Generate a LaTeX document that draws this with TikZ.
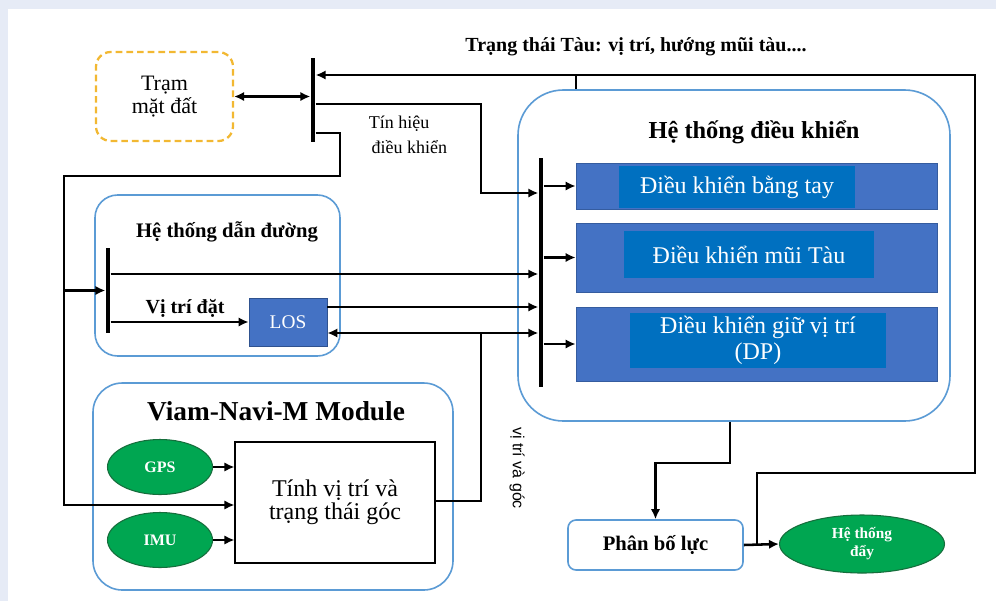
\documentclass[tikz,border=0pt]{standalone}
\usepackage{fontspec}
\setmainfont{Liberation Serif}
\newfontfamily\sansf{Liberation Sans}
\usetikzlibrary{arrows.meta,shapes.geometric}
\definecolor{bgc}{RGB}{230,235,246}
\definecolor{edgeblue}{RGB}{91,155,213}
\definecolor{boxblue}{RGB}{68,114,196}
\definecolor{boxedge}{RGB}{47,82,143}
\definecolor{innerblue}{RGB}{0,112,192}
\definecolor{grn}{RGB}{0,166,81}
\definecolor{grnedge}{RGB}{22,110,60}
\definecolor{orng}{RGB}{242,184,50}
\begin{document}
\begin{tikzpicture}[x=0.75pt,y=-0.75pt,
  sz/.style 2 args={minimum width=#1*0.75pt, minimum height=#2*0.75pt},
  wire/.style={line width=1.9pt, black},
  arr/.style={wire, -{Latex[length=7.5pt,width=7pt]}},
  dbl/.style={wire, {Latex[length=7.5pt,width=7pt]}-{Latex[length=7.5pt,width=7pt]}},
  busbar/.style={fill=black, draw=none, inner sep=0pt, minimum width=3.6pt},
  container/.style={draw=edgeblue, line width=1.2pt, rounded corners=#1, inner sep=0pt},
  tram/.style={draw=orng, line width=1.7pt, dash pattern=on 5pt off 3pt, rounded corners=11pt, inner sep=0pt, align=center, font=\fontsize{16.5}{17}\selectfont},
  losbox/.style={fill=boxblue, draw=boxedge, line width=0.6pt, inner sep=0pt, text=white, font=\fontsize{14.5}{16}\selectfont},
  outerbox/.style={fill=boxblue, draw=boxedge!70!boxblue, line width=0.6pt, inner sep=0pt},
  innerbox/.style={fill=innerblue, draw=none, inner sep=0pt, text=white, align=center, font=\fontsize{18}{20}\selectfont},
  calcbox/.style={draw=black, line width=0.8pt, fill=white, inner sep=0pt, align=center, font=\fontsize{18}{17.5}\selectfont},
  ell/.style={ellipse, fill=grn, draw=grnedge, line width=0.8pt, inner sep=0pt, text=white, align=center},
  title/.style={inner sep=0pt, font=\bfseries\fontsize{#1}{#1}\selectfont}
]
\fill[bgc] (0,0) rectangle (996,601);
\fill[white] (8,9) rectangle (996,601);
\useasboundingbox (0,0) rectangle (996,601);

% containers
\node[container=17pt, sz={245}{161}] (nav) at (217.5,275.5) {};
\node[container=22pt, sz={360}{207}] (viam) at (273,486.5) {};
\node[container=34pt, sz={432}{331}] (ctl) at (734,255.5) {};
\node[container=6pt, sz={175}{50}, font=\bfseries\fontsize{15.5}{18}\selectfont] (phan) at (655.5,545) {Phân bố lực};

% titles
\node[title=15] (ttop) at (636,47) {Trạng thái Tàu: vị trí, hướng mũi tàu....};
\node[title=18.3] (tctl) at (754,132) {Hệ thống điều khiển};
\node[title=15.5] (tnav) at (227,232) {Hệ thống dẫn đường};
\node[title=20.5] (tviam) at (276,411) {Viam-Navi-M Module};

% boxes
\node[tram, sz={137}{89}] (tram) at (164.5,96.5) {Trạm\\mặt đất};
\node[busbar, minimum height=84*0.75pt] (b1) at (313,100) {};
\node[busbar, minimum height=229*0.75pt] (b2) at (541,272.5) {};
\node[busbar, minimum height=85*0.75pt] (b3) at (108,290.5) {};
\node[losbox, sz={78}{48}] (los) at (288,322) {LOS};

\node[outerbox, sz={361}{46}] (m1) at (756.5,186) {};
\node[innerbox, sz={236}{42}] (i1) at (737,187) {Điều khiển bằng tay};
\node[outerbox, sz={361}{69}] (m2) at (756.5,257.5) {};
\node[innerbox, sz={250}{47}] (i2) at (749,254.5) {Điều khiển mũi Tàu};
\node[outerbox, sz={361}{74}] (m3) at (756.5,344) {};
\node[innerbox, sz={256}{55}] (i3) at (758,340.5) {Điều khiển giữ vị trí\\(DP)};

\node[calcbox, sz={200}{121}] (calc) at (335,502.5) {Tính vị trí và\\trạng thái góc};
\node[ell, sz={105}{55}, font=\bfseries\fontsize{12}{14}\selectfont] (gps) at (160,467) {GPS};
\node[ell, sz={105}{55}, font=\bfseries\fontsize{12}{14}\selectfont] (imu) at (160,540) {IMU};
\node[ell, sz={165}{58}, font=\bfseries\fontsize{11.5}{13.5}\selectfont] (day) at (862,544) {Hệ thống\\đẩy};

% labels
\node[inner sep=0pt, align=left, font=\fontsize{13.5}{18.5}\selectfont] (tin) at (408,135) {Tín hiệu\\\hspace*{2pt}điều khiển};
\node[inner sep=0pt, font=\bfseries\fontsize{15}{18}\selectfont] (vtd) at (185,308) {Vị trí đặt};
\node[inner sep=0pt, rotate=-90, font=\sansf\fontsize{12}{14}\selectfont] (vtg) at (517,468) {vị trí và góc};

% coordinates
\coordinate (j) at (757,544);
\coordinate (rc) at (975,473);
\coordinate (rt) at (975,75);
\coordinate (tk) at (576,75);
\coordinate (lb) at (64,290.5);
\coordinate (st) at (481,333);

% connectors
\draw[dbl] (tram.east) -- (tram.east -| b1.west);
\draw[arr] (j) |- (rc) -- (rt) -- (rt -| b1.east);
\draw[wire] (tk) -- (tk |- ctl.north);
\draw[arr] (b1.east |- 0,104) -| (481,193) -- (b2.west |- 0,193);
\draw[arr] (b1.east |- 0,133) -| (340,176) -| (64,505) -- (calc.west |- 0,505);
\draw[arr] (lb) -- (b3.west);
\draw[arr] (b3.east |- 0,274) -- (b2.west |- 0,274);
\draw[arr] (b3.east |- los.west) -- (los.west);
\draw[arr] (los.east |- 0,307) -- (b2.west |- 0,307);
\draw[wire] (calc.east |- 0,501) -| (st);
\draw[arr] (st) -- (los.east |- st);
\draw[arr] (st) -- (b2.west |- st);
\draw[arr] (b2.east |- m1.west) -- (m1.west);
\draw[arr] (b2.east |- m2.west) -- (m2.west);
\draw[arr] (b2.east |- m3.west) -- (m3.west);
\draw[arr] (ctl.south -| 730,0) -- (730,463) -| (phan.north);
\draw[arr] (phan.east) -- (day.west);
\draw[arr] (gps.east) -- (gps.east -| calc.west);
\draw[arr] (imu.east) -- (imu.east -| calc.west);
\end{tikzpicture}
\end{document}
